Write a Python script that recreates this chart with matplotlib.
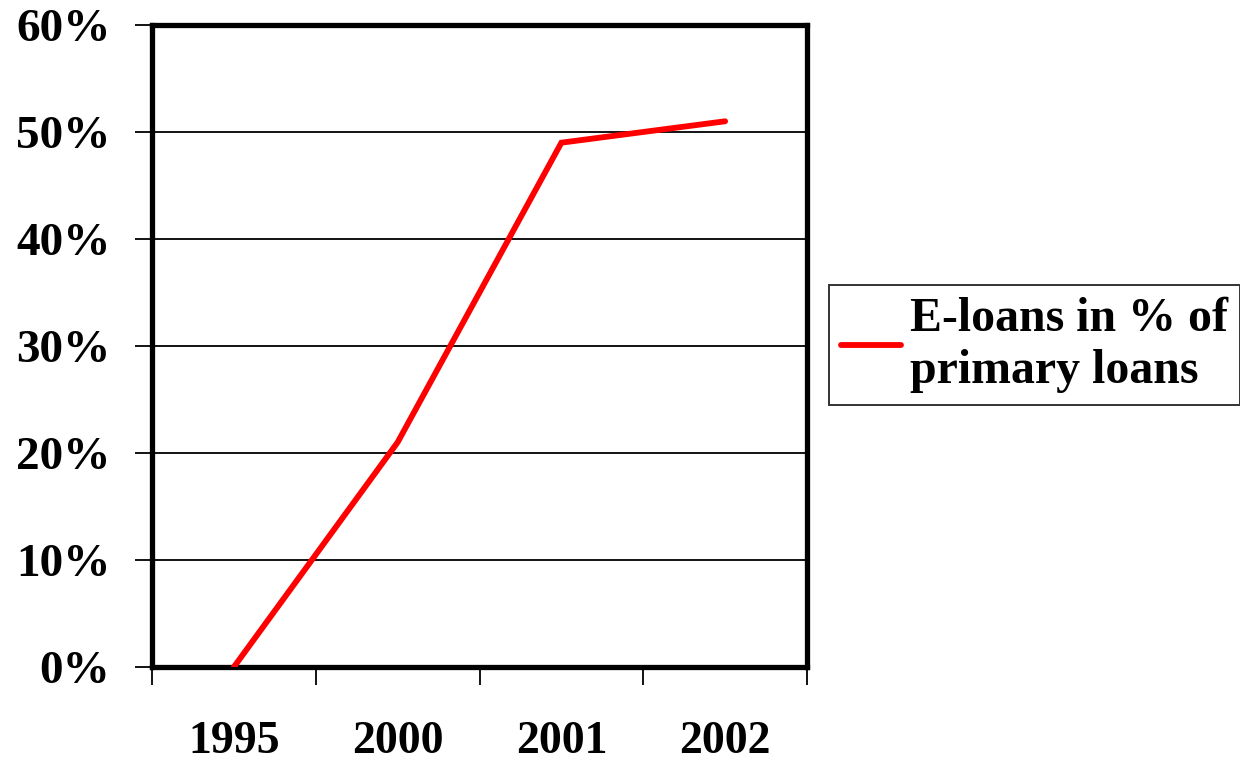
import matplotlib.pyplot as plt
import numpy as np

years = ['1995', '2000', '2001', '2002']
eloan_share = [0, 21, 49, 51]
series_label = 'E-loans in % of\nprimary loans'

plt.rcParams['font.family'] = 'Liberation Serif'
plt.rcParams['font.weight'] = 'bold'

fig = plt.figure(figsize=(12.4, 7.64), dpi=100)
ax = fig.add_axes([0.1226, 0.127, 0.5282, 0.8403])

x = np.arange(len(years))
line, = ax.plot(x, eloan_share, color='#ff0000', lw=4.2, solid_capstyle='round',
                solid_joinstyle='miter', zorder=3)

ax.set_xlim(-0.5, len(years) - 0.5)
ax.set_ylim(0, 60)

# horizontal gridlines
ax.set_yticks(np.arange(0, 61, 10))
ax.set_yticklabels([f'{v}%' for v in range(0, 61, 10)], fontsize=34, fontweight='bold')
ax.yaxis.grid(True, color='black', lw=1.3)
ax.tick_params(axis='y', direction='out', length=12, width=1.3, pad=18)

# ticks on category boundaries, labels centred between them
ax.set_xticks(np.arange(-0.5, len(years), 1.0))
ax.set_xticklabels([])
ax.set_xticks(x, minor=True)
ax.set_xticklabels(years, minor=True, fontsize=33, fontweight='bold')
ax.tick_params(axis='x', which='major', direction='out', length=13, width=1.3)
ax.tick_params(axis='x', which='minor', length=0, pad=39)

for s in ax.spines.values():
    s.set_linewidth(3.8)
ax.set_axisbelow(True)

leg = fig.legend([line], [series_label], loc='upper left',
                 bbox_to_anchor=(829 / 1240, 1 - 285 / 764),
                 prop={'family': 'Liberation Serif', 'weight': 'bold', 'size': 34.5},
                 frameon=True, fancybox=False, handlelength=1.25, handletextpad=0.2,
                 borderpad=0.25, labelspacing=0.1, borderaxespad=0)
leg.get_frame().set_edgecolor('black')
leg.get_frame().set_linewidth(1.4)
leg.get_texts()[0].set_linespacing(1.25)
leg.get_lines()[0].set_linewidth(4.2)

fig.savefig('out.png', dpi=100)
